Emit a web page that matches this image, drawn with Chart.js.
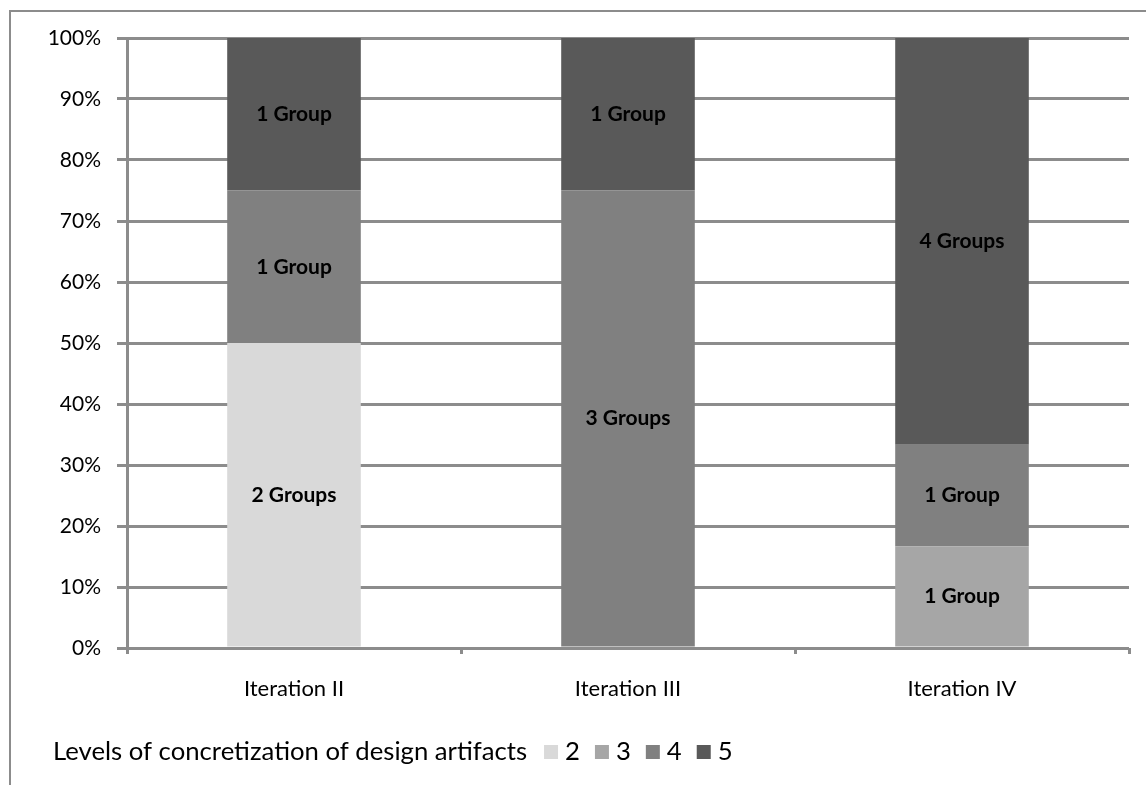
<!DOCTYPE html>
<html>
<head>
<meta charset="utf-8">
<script src="https://cdn.jsdelivr.net/npm/chart.js@4.4.0/dist/chart.umd.min.js"></script>
<style>
  html, body { margin: 0; padding: 0; background: #fff; overflow: hidden; }
  #wrap { position: relative; width: 1146px; height: 785px; }
  #frame { position: absolute; left: 9px; top: 10px; width: 1200px; height: 900px; border: 2px solid #8c8c8c; box-sizing: border-box; }
  canvas { position: absolute; left: 0; top: 0; }
</style>
</head>
<body>
<div id="wrap">
  <div id="frame"></div>
  <canvas id="chart" width="1146" height="785"></canvas>
</div>
<script>
// categories and group counts per concretization level
var iterations = ['Iteration II', 'Iteration III', 'Iteration IV'];
var levels = ['2', '3', '4', '5'];
var level2 = [2, 0, 0];
var level3 = [0, 0, 1];
var level4 = [1, 3, 1];
var level5 = [1, 1, 4];
var yTicks = [0, 10, 20, 30, 40, 50, 60, 70, 80, 90, 100];
var legendTitle = 'Levels of concretization of design artifacts';

var counts = [level2, level3, level4, level5];
var colors = ['#d9d9d9', '#a6a6a6', '#808080', '#595959'];
var FONT = 'Lato, "Open Sans", sans-serif';

var totals = iterations.map(function (_, i) {
  return counts.reduce(function (s, c) { return s + c[i]; }, 0);
});

var datasets = counts.map(function (c, k) {
  return {
    label: levels[k],
    counts: c,
    data: c.map(function (v, i) { return v / totals[i] * 100; }),
    backgroundColor: colors[k],
    borderWidth: 0,
    barPercentage: 0.4,
    categoryPercentage: 1
  };
});

// group count labels inside the bar segments
var groupLabels = {
  id: 'groupLabels',
  afterDatasetsDraw: function (chart) {
    var ctx = chart.ctx;
    ctx.save();
    ctx.font = 'bold 21px ' + FONT;
    ctx.fillStyle = '#000';
    ctx.textAlign = 'center';
    ctx.textBaseline = 'middle';
    chart.data.datasets.forEach(function (ds, k) {
      chart.getDatasetMeta(k).data.forEach(function (bar, i) {
        var n = ds.counts[i];
        if (!n) return;
        var p = bar.getCenterPoint();
        ctx.fillText(n + (n === 1 ? ' Group' : ' Groups'), p.x, p.y);
      });
    });
    ctx.restore();
  }
};

// bottom legend: title followed by the level swatches
var bottomLegend = {
  id: 'bottomLegend',
  afterDraw: function (chart) {
    var ctx = chart.ctx;
    var y = 752, x = 53;
    ctx.save();
    ctx.font = '25.7px ' + FONT;
    ctx.fillStyle = '#000';
    ctx.textBaseline = 'middle';
    ctx.textAlign = 'left';
    ctx.fillText(legendTitle, x, y);
    x += ctx.measureText(legendTitle).width + 17;
    chart.data.datasets.forEach(function (ds) {
      ctx.fillStyle = ds.backgroundColor;
      ctx.fillRect(x, y - 7, 14, 14);
      ctx.fillStyle = '#000';
      ctx.fillText(ds.label, x + 21, y);
      x += 21 + ctx.measureText(ds.label).width + 15;
    });
    ctx.restore();
  }
};

new Chart(document.getElementById('chart').getContext('2d'), {
  type: 'bar',
  data: { labels: iterations, datasets: datasets },
  plugins: [groupLabels, bottomLegend],
  options: {
    responsive: false,
    animation: false,
    layout: { padding: { top: 38, right: 17, left: 0, bottom: 0 } },
    plugins: { legend: { display: false }, tooltip: { enabled: false } },
    scales: {
      x: {
        stacked: true,
        afterFit: function (s) { s.height = 137; },
        grid: { offset: true, drawOnChartArea: false, color: '#8c8c8c', lineWidth: 3, tickLength: 6 },
        border: { display: false },
        ticks: { color: '#000', padding: 22, font: { family: FONT, size: 22 } }
      },
      y: {
        stacked: true,
        min: 0,
        max: 100,
        afterFit: function (s) { s.width = 127; },
        afterBuildTicks: function (s) { s.ticks = yTicks.map(function (v) { return { value: v }; }); },
        grid: { color: '#8c8c8c', lineWidth: 3, tickLength: 10 },
        border: { display: true, color: '#8c8c8c', width: 3 },
        ticks: {
          color: '#000', padding: 16, font: { family: FONT, size: 21 },
          callback: function (v) { return v + '%'; }
        }
      }
    }
  }
});
</script>
</body>
</html>
